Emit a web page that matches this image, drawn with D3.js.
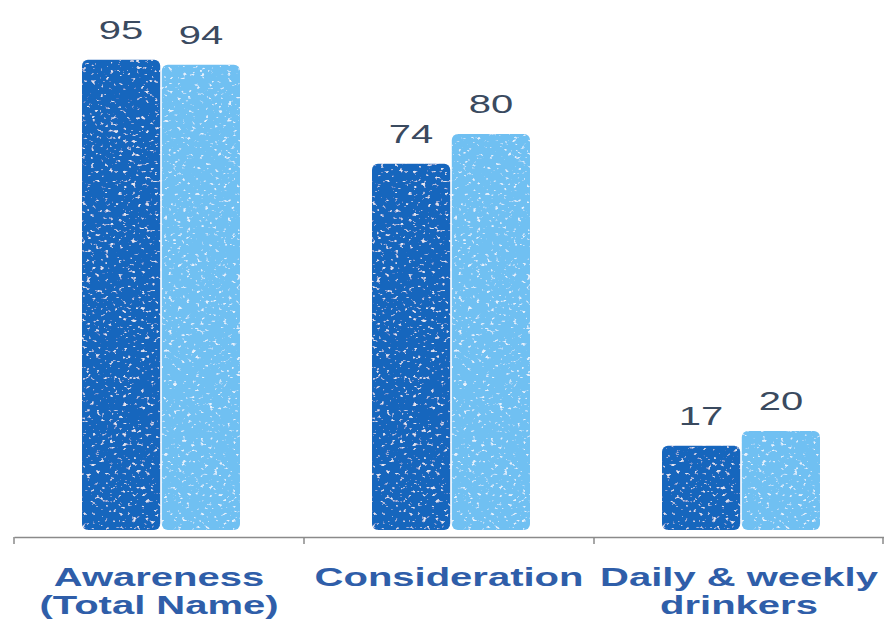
<!DOCTYPE html>
<html>
<head>
<meta charset="utf-8">
<script src="https://cdn.jsdelivr.net/npm/d3@7"></script>
<style>
  html, body { margin: 0; padding: 0; background: #fff; }
  svg { display: block; }
</style>
</head>
<body>
<div id="chart"></div>
<script>
// Chart data
const categories = ["Awareness\n(Total Name)", "Consideration", "Daily & weekly\ndrinkers"];
const series = ["A", "B"];
const valuesA = [95, 74, 17];
const valuesB = [94, 80, 20];

const seriesColors = { A: "#1866bd", B: "#6fc0f2" };

const width = 884;
const height = 625;
// the original picture is stretched sideways, so the text is too
const stretch = 1.6;

const svg = d3
  .select("#chart")
  .append("svg")
  .attr("width", width)
  .attr("height", height);

// White speckle texture on the bars
const defs = svg.append("defs");
const filter = defs
  .append("filter")
  .attr("id", "speckle")
  .attr("x", 0)
  .attr("y", 0)
  .attr("width", 1)
  .attr("height", 1);
filter
  .append("feTurbulence")
  .attr("type", "fractalNoise")
  .attr("baseFrequency", "0.22 0.3")
  .attr("numOctaves", 2)
  .attr("seed", 7)
  .attr("result", "noise");
filter
  .append("feColorMatrix")
  .attr("in", "noise")
  .attr("type", "matrix")
  .attr("values", "0 0 0 0 1  0 0 0 0 1  0 0 0 0 1  8 0 0 0 -5.1")
  .attr("result", "dots");
filter
  .append("feComposite")
  .attr("in", "dots")
  .attr("in2", "SourceGraphic")
  .attr("operator", "in")
  .attr("result", "clipped");
filter
  .append("feComponentTransfer")
  .attr("in", "clipped")
  .attr("result", "soft")
  .append("feFuncA")
  .attr("type", "linear")
  .attr("slope", 0.75);
const merge = filter.append("feMerge");
merge.append("feMergeNode").attr("in", "SourceGraphic");
merge.append("feMergeNode").attr("in", "soft");

// Scales
const x0 = d3.scaleBand().domain(categories).range([14, 884]).padding(0);
const x1 = d3.scaleBand().domain(series).range([68, 226]).paddingInner(0.02);
const y = d3.scaleLinear().domain([0, 100]).range([530, 35]);

const rows = categories.map((c, i) => ({
  category: c,
  values: [
    { key: "A", value: valuesA[i] },
    { key: "B", value: valuesB[i] },
  ],
}));

const groups = svg
  .selectAll("g.group")
  .data(rows)
  .enter()
  .append("g")
  .attr("class", "group")
  .attr("transform", (d) => `translate(${x0(d.category)},0)`);

groups
  .selectAll("rect")
  .data((d) => d.values)
  .enter()
  .append("rect")
  .attr("x", (d) => x1(d.key))
  .attr("y", (d) => y(d.value))
  .attr("width", x1.bandwidth())
  .attr("height", (d) => y(0) - y(d.value))
  .attr("rx", 6)
  .attr("fill", (d) => seriesColors[d.key])
  .attr("filter", "url(#speckle)");

groups
  .selectAll("text.value")
  .data((d) => d.values)
  .enter()
  .append("text")
  .attr("class", "value")
  .attr(
    "transform",
    (d) =>
      `translate(${x1(d.key) + x1.bandwidth() / 2},${y(d.value) - 21}) scale(${stretch},1)`
  )
  .attr("text-anchor", "middle")
  .attr("font-family", "Liberation Sans, Arial, sans-serif")
  .attr("font-size", "25px")
  .attr("fill", "#3a4a5f")
  .text((d) => d.value);

// Axis
const axis = svg
  .append("g")
  .attr("transform", "translate(0,537)")
  .call(
    d3
      .axisBottom(x0)
      .tickSize(0)
      .tickFormat("")
  );
axis.select(".domain").attr("stroke", "#8a8a8a").attr("stroke-width", 1.5);

// tick marks at the band boundaries
const boundaries = categories.map((c) => x0(c)).concat([x0.range()[1] - 1]);
axis
  .selectAll("line.sep")
  .data(boundaries)
  .enter()
  .append("line")
  .attr("class", "sep")
  .attr("x1", (d) => d)
  .attr("x2", (d) => d)
  .attr("y1", 0)
  .attr("y2", 7)
  .attr("stroke", "#8a8a8a")
  .attr("stroke-width", 1.5);

// Category labels
svg
  .selectAll("text.cat")
  .data(categories)
  .enter()
  .append("text")
  .attr("class", "cat")
  .attr("text-anchor", "middle")
  .attr("font-family", "Liberation Sans, Arial, sans-serif")
  .attr("font-weight", "bold")
  .attr("font-size", "25px")
  .attr("fill", "#2f5ea9")
  .attr(
    "transform",
    (d) => `translate(${x0(d) + x0.bandwidth() / 2},586) scale(${stretch},1)`
  )
  .each(function (d) {
    const text = d3.select(this);
    d.split("\n").forEach((line, i) => {
      text
        .append("tspan")
        .attr("x", 0)
        .attr("dy", i === 0 ? "0em" : "1.12em")
        .text(line);
    });
  });
</script>
</body>
</html>
